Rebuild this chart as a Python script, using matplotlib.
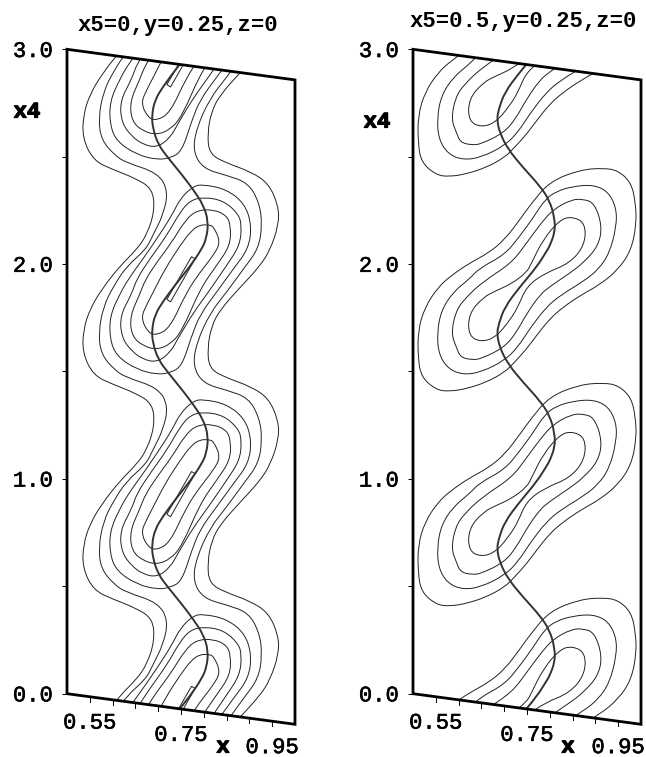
#!/usr/bin/env python
# -*- coding: utf-8 -*-

import numpy as np
import matplotlib
matplotlib.use('Agg')
from matplotlib import pyplot as plt
from matplotlib import patheffects
from matplotlib.patches import Polygon, PathPatch
from matplotlib.path import Path
from matplotlib.transforms import Affine2D, ScaledTranslation

# one period of each contour, the pattern repeats every 1.0 in x4
# left panel, open contours
a1_l_x = [.653, .616, .576, .550, .536, .534, .558, .602, .649, .688, .692, .675]
a1_l_y = [2.112, 2.024, 1.904, 1.803, 1.706, 1.597, 1.498, 1.468, 1.443, 1.404, 1.300, 1.186]
a1_r_x = [.946, .923, .879, .836, .817, .808, .812, .850, .901, .942, .964, .964]
a1_r_y = [2.195, 2.111, 1.998, 1.884, 1.802, 1.698, 1.601, 1.570, 1.546, 1.503, 1.401, 1.315]
a2_l_x = [.673, .631, .602, .580, .569, .575, .605, .629, .700, .722, .711, .689]
a2_l_y = [2.117, 2.028, 1.926, 1.827, 1.700, 1.600, 1.536, 1.510, 1.481, 1.402, 1.290, 1.191]
a2_r_x = [.920, .887, .850, .814, .784, .776, .799, .850, .898, .922, .928]
a2_r_y = [2.191, 2.088, 1.969, 1.863, 1.714, 1.603, 1.529, 1.513, 1.491, 1.404, 1.305]

# left panel, closed contours, outer to inner
a3_x = [.697, .653, .609, .594, .594, .616, .635, .667, .697, .730, .748, .777, .799, .850, .890, .905, .898, .865, .828, .792, .773, .752, .726]
a3_y = [1.542, 1.553, 1.602, 1.676, 1.785, 1.895, 1.970, 2.073, 2.174, 2.292, 2.375, 2.442, 2.456, 2.448, 2.392, 2.295, 2.185, 2.082, 1.963, 1.849, 1.742, 1.596, 1.558]
a4_x = [.697, .667, .642, .620, .616, .642, .653, .682, .719, .748, .770, .799, .843, .876, .883, .879, .850, .810, .777, .744, .726]
a4_y = [1.599, 1.604, 1.635, 1.691, 1.791, 1.902, 1.975, 2.077, 2.196, 2.313, 2.373, 2.397, 2.394, 2.341, 2.289, 2.195, 2.093, 1.958, 1.852, 1.726, 1.651]
a5_x = [.697, .667, .642, .638, .660, .671, .697, .730, .759, .784, .821, .850, .859, .858, .828, .792, .752, .726]
a5_y = [1.658, 1.666, 1.705, 1.797, 1.907, 1.973, 2.065, 2.168, 2.277, 2.331, 2.346, 2.326, 2.282, 2.189, 2.087, 1.968, 1.759, 1.690]
a6_x = [.697, .678, .662, .675, .689, .715, .748, .773, .792, .810, .821, .837, .821, .792, .762, .726]
a6_y = [1.725, 1.731, 1.796, 1.862, 1.923, 2.039, 2.157, 2.235, 2.266, 2.271, 2.268, 2.198, 2.132, 2.046, 1.944, 1.768]
a7_x = [.773, .781, .727, .719]
a7_y = [2.112, 2.105, 1.889, 1.898]

# left panel, thick curve
a_curve_x = [.795, .770, .741, .711, .693, .686, .688, .700, .722, .752, .777, .799, .810, .806]
a_curve_y = [2.152, 2.067, 1.982, 1.888, 1.820, 1.748, 1.687, 1.613, 1.557, 1.488, 1.425, 1.361, 1.287, 1.208]

# right panel, closed contours, outer to inner
b1_x = [.580, .551, .518, .511, .511, .526, .555, .584, .624, .665, .701, .734, .760, .800, .866, .917, .950, .979, .988, .990, .979, .950, .909, .869, .829, .800, .771, .749, .723, .701, .661, .617]
b1_y = [1.430, 1.429, 1.479, 1.570, 1.694, 1.807, 1.908, 1.971, 2.040, 2.098, 2.171, 2.273, 2.358, 2.470, 2.543, 2.566, 2.564, 2.514, 2.423, 2.330, 2.203, 2.102, 2.020, 1.962, 1.893, 1.831, 1.745, 1.676, 1.607, 1.554, 1.496, 1.453]
b2_x = [.610, .577, .556, .553, .562, .588, .624, .646, .701, .734, .763, .789, .814, .851, .895, .928, .946, .946, .931, .906, .873, .825, .792, .756, .730, .701, .650]
b2_y = [1.516, 1.534, 1.598, 1.698, 1.802, 1.895, 1.967, 2.023, 2.101, 2.196, 2.289, 2.382, 2.428, 2.462, 2.482, 2.460, 2.388, 2.302, 2.174, 2.089, 2.025, 1.950, 1.883, 1.772, 1.679, 1.609, 1.540]
b3_x = [.629, .604, .595, .584, .593, .613, .654, .716, .749, .781, .807, .847, .873, .898, .915, .906, .873, .844, .800, .778, .749, .727, .701, .650]
b3_y = [1.591, 1.596, 1.640, 1.699, 1.803, 1.871, 1.963, 2.066, 2.169, 2.271, 2.341, 2.399, 2.409, 2.398, 2.294, 2.198, 2.111, 2.056, 1.981, 1.936, 1.839, 1.748, 1.671, 1.602]
b4_x = [.652, .622, .622, .654, .683, .716, .749, .760, .785, .822, .849, .878, .877, .844, .789, .749, .730, .712, .683]
b4_y = [1.680, 1.698, 1.803, 1.890, 1.929, 1.970, 2.032, 2.079, 2.195, 2.298, 2.321, 2.299, 2.197, 2.102, 2.040, 1.967, 1.865, 1.798, 1.715]

# right panel, thick curve
b_curve_x = [.794, .771, .734, .701, .688, .684, .690, .708, .741, .778, .800, .811, .811, .800]
b_curve_y = [2.147, 2.063, 1.960, 1.857, 1.775, 1.728, 1.667, 1.595, 1.519, 1.444, 1.380, 1.298, 1.236, 1.171]

x_ticks = [0.55, 0.60, 0.65, 0.70, 0.75, 0.80, 0.85, 0.90, 0.95]
x_labels = {0.55: '0.55', 0.75: '0.75', 0.95: '0.95'}
y_ticks = [0.0, 0.5, 1.0, 1.5, 2.0, 2.5, 3.0]
y_labels = ['0.0', '', '1.0', '', '2.0', '', '3.0']

W, H = 646, 757
skew_k = 0.285
FONT = 'Liberation Mono'
heavy = [patheffects.withStroke(linewidth=0.4, foreground='black')]
heavier = [patheffects.withStroke(linewidth=0.9, foreground='black')]

plt.rcParams['font.family'] = FONT
fig = plt.figure(figsize=(W / 100.0, H / 100.0), dpi=100)


def make_panel(left_px, top_px, title, title_xy, x4_xy, xlab_xy):
    ax = fig.add_axes([left_px / W, (H - top_px - 675.0) / H, 228.0 / W, 675.0 / H])
    ax.set_xlim(0.5, 1.0)
    ax.set_ylim(-skew_k * 0.5, 3.0)
    ax.patch.set_visible(False)
    for s in ax.spines.values():
        s.set_visible(False)
    ax.set_xticks([])
    ax.set_yticks(y_ticks)
    ax.set_yticklabels(y_labels, fontsize=16, va='center', path_effects=heavy)
    ax.tick_params(axis='y', length=3.6, width=0.7, pad=6.5)
    for lab in ax.get_yticklabels():
        lab.set_transform(lab.get_transform() + ScaledTranslation(0, -1.6 / 72, fig.dpi_scale_trans))

    # x4 lines slope down to the right
    skew = Affine2D.from_values(1, -skew_k, 0, 1, 0, skew_k * 0.5) + ax.transData
    frame = Polygon([[0.5, 0], [1, 0], [1, 3], [0.5, 3]], closed=True, fill=False,
                    edgecolor='black', linewidth=2.0, joinstyle='miter',
                    transform=skew, clip_on=False, zorder=5)
    ax.add_patch(frame)

    for x in x_ticks:
        ax.plot([x, x], [0, -0.024], color='black', lw=0.7, transform=skew, clip_on=False)
        if x in x_labels:
            ax.annotate(x_labels[x], (x, 0), xycoords=skew, xytext=(0, -19),
                        textcoords='offset points', ha='center', va='center', fontsize=16,
                        path_effects=heavy)

    fig.text(title_xy[0] / W, 1 - title_xy[1] / H, title, fontsize=16, fontweight='bold',
             ha='center', va='center')
    fig.text(x4_xy[0] / W, 1 - x4_xy[1] / H, 'x4', fontsize=16, fontweight='bold',
             ha='center', va='center', path_effects=heavier)
    fig.text(xlab_xy[0] / W, 1 - xlab_xy[1] / H, 'x', fontsize=16, fontweight='bold',
             ha='center', va='center', path_effects=heavier)
    return ax, skew, frame


def smooth_path(xs, ys, closed):
    # data points are the control points of quadratic pieces
    pts = np.column_stack([xs, ys])
    if closed:
        mids = (pts + np.roll(pts, -1, axis=0)) / 2.0
        verts = [mids[-1]]
        codes = [Path.MOVETO]
        for p, m in zip(pts, mids):
            verts += [p, m]
            codes += [Path.CURVE3, Path.CURVE3]
    else:
        mids = (pts[:-1] + pts[1:]) / 2.0
        verts = [pts[0]]
        codes = [Path.MOVETO]
        for p, m in zip(pts[1:-1], mids[1:]):
            verts += [p, m]
            codes += [Path.CURVE3, Path.CURVE3]
    return Path(verts, codes)


def add_path(ax, skew, frame, path, lw, color):
    patch = PathPatch(path, fill=False, edgecolor=color, linewidth=lw, transform=skew)
    ax.add_patch(patch)
    patch.set_clip_path(frame)


def draw_loops(ax, skew, frame, curves, lw, color, smooth=True):
    for xs, ys in curves:
        for k in range(-2, 2):
            if smooth:
                path = smooth_path(xs, np.array(ys) + k, True)
            else:
                path = Path(np.column_stack([xs, np.array(ys) + k]), closed=False)
                path = Path(np.vstack([path.vertices, path.vertices[0]]))
            add_path(ax, skew, frame, path, lw, color)


def draw_chains(ax, skew, frame, curves, lw, color):
    # open contours, the periods joined end to end
    for xs, ys in curves:
        all_x = np.concatenate([xs for k in range(3, -3, -1)])
        all_y = np.concatenate([np.array(ys) + k for k in range(3, -3, -1)])
        add_path(ax, skew, frame, smooth_path(all_x, all_y, False), lw, color)


ax, skew, frame = make_panel(67, 49.3, 'x5=0,y=0.25,z=0', (177.5, 25), (27, 112), (223, 747))
draw_chains(ax, skew, frame, [(a1_l_x, a1_l_y), (a1_r_x, a1_r_y), (a2_l_x, a2_l_y), (a2_r_x, a2_r_y)], 0.7, '#222222')
draw_loops(ax, skew, frame, [(a3_x, a3_y), (a4_x, a4_y), (a5_x, a5_y), (a6_x, a6_y)], 0.7, '#222222')
draw_loops(ax, skew, frame, [(a7_x, a7_y)], 0.7, '#222222', smooth=False)
draw_chains(ax, skew, frame, [(a_curve_x, a_curve_y)], 1.4, '#333333')

ax2, skew2, frame2 = make_panel(413, 49.3, 'x5=0.5,y=0.25,z=0', (523, 22), (377, 122), (568, 747))
draw_loops(ax2, skew2, frame2, [(b1_x, b1_y), (b2_x, b2_y), (b3_x, b3_y), (b4_x, b4_y)], 0.7, '#222222')
draw_chains(ax2, skew2, frame2, [(b_curve_x, b_curve_y)], 1.4, '#333333')

fig.savefig('out.png', dpi=100)
